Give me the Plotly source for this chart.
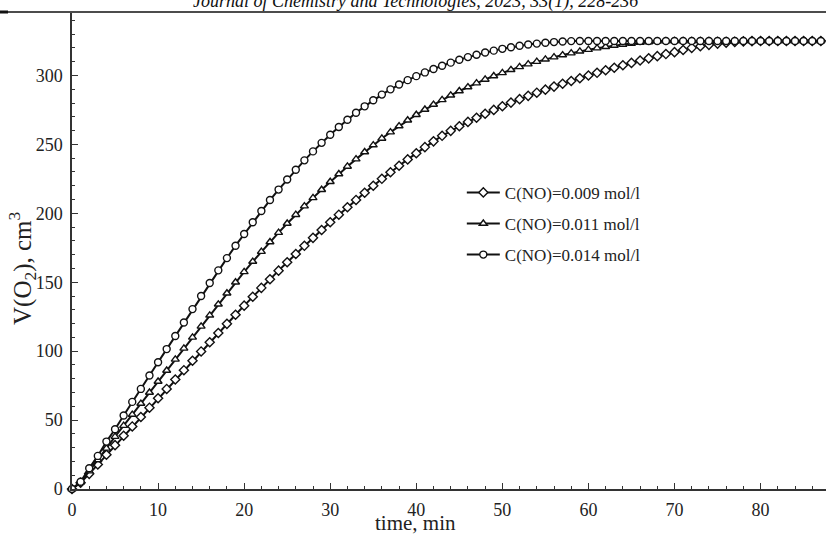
import plotly.graph_objects as go

time_min = list(range(0, 88))

v_009 = [0, 4.5, 11, 17.8, 24.8, 31.8, 38.6, 45.4, 52.2, 59, 65.8, 72.6, 79.4, 86.2, 93, 99.8,
         106.5, 113.2, 119.8, 126.4, 133, 139.5, 145.9, 152.2, 158.4, 164.5, 170.5, 176.4, 182.2,
         187.9, 193.5, 199, 204.4, 209.7, 214.9, 220, 225, 229.8, 234.5, 239.1, 243.6, 248, 252.2,
         256.2, 259.8, 263.1, 266.3, 269.3, 272.2, 275, 277.7, 280.3, 282.8, 285.2, 287.5, 289.7,
         291.9, 294, 296, 298, 300, 301.9, 303.8, 305.6, 307.4, 309.1, 310.8, 312.4, 314, 315.5,
         316.9, 318.5, 320, 321.2, 322.2, 323.1, 323.8, 324.3, 324.7, 324.9,
         325, 325, 325, 325, 325, 325, 325, 325]

v_011 = [0, 5, 13, 21, 29.5, 38, 46, 54, 62, 70, 78, 86, 94, 102, 110, 118, 126, 134, 142, 150,
         157.5, 165, 172.2, 179.2, 186, 192.6, 199, 205.2, 211.2, 217.1, 222.9, 228.5, 234, 239.3,
         244.5, 249.5, 254.3, 258.9, 263.3, 267.5, 271.5, 275.3, 278.9, 282.3, 285.6, 288.7, 291.6,
         294.4, 297.1, 299.6, 301.9, 304.1, 306.2, 308.2, 310, 311.7, 313.3, 314.8, 316.2, 317.5,
         318.7, 319.8, 320.8, 321.7, 322.5, 323.2, 323.8, 324.3, 324.7, 324.9,
         325, 325, 325, 325, 325, 325, 325, 325, 325, 325, 325, 325, 325, 325, 325, 325, 325, 325]

v_014 = [0, 5.3, 15, 24, 34.4, 43.3, 53.3, 63.2, 72.6, 82.3, 92, 101.5, 111, 120.8, 130.5, 140,
         149.4, 158.6, 167.5, 176.5, 185, 193.5, 201.7, 209.6, 217.2, 224.5, 231.6, 238.4, 244.9,
         251.1, 257, 262.6, 267.9, 272.9, 277.6, 282, 286.1, 289.9, 293.4, 296.6, 299.5, 302.2,
         304.7, 307, 309.3, 311.4, 313.3, 315, 316.6, 318, 319.3, 320.5, 321.5, 322.4, 323.1,
         323.7, 324.2, 324.6, 324.9,
         325, 325, 325, 325, 325, 325, 325, 325, 325, 325, 325, 325, 325, 325, 325, 325, 325, 325,
         325, 325, 325, 325, 325, 325, 325, 325, 325, 325, 325]

series_names = ["C(NO)=0.009 mol/l", "C(NO)=0.011 mol/l", "C(NO)=0.014 mol/l"]
series_values = [v_009, v_011, v_014]
series_symbols = ["diamond", "triangle-up", "circle"]
x_ticks = [0, 10, 20, 30, 40, 50, 60, 70, 80]
y_ticks = [0, 50, 100, 150, 200, 250, 300]

SERIF = "Liberation Serif, Times New Roman, serif"
INK = "#222222"

fig = go.Figure()
for name, vals, sym in zip(series_names, series_values, series_symbols):
    fig.add_trace(go.Scatter(
        x=time_min, y=vals, name=name, mode="lines+markers",
        line=dict(color="#111111", width=2),
        marker=dict(symbol=sym, size=7, color="white", line=dict(color="#111111", width=1.4)),
        cliponaxis=False, legendgroup=name,
    ))

axis_common = dict(
    showline=True, linecolor="#333333", linewidth=1.5, mirror=False,
    ticks="inside", ticklen=6, tickwidth=1.3, tickcolor="#333333",
    showgrid=False, zeroline=False,
    tickfont=dict(family=SERIF, size=18, color=INK),
)

fig.update_xaxes(range=[0, 87.6], tickvals=x_ticks,
                 minor=dict(dtick=2, tick0=0, ticks="inside", ticklen=3.5, tickwidth=1.2,
                            tickcolor="#333333", showgrid=False),
                 ticklabelstandoff=4, **axis_common)
fig.update_yaxes(range=[0, 345.3], tickvals=y_ticks,
                 minor=dict(dtick=10, tick0=0, ticks="inside", ticklen=3.5, tickwidth=1.2,
                            tickcolor="#333333", showgrid=False),
                 ticklabelstandoff=4, **axis_common)

fig.update_layout(
    width=826, height=535,
    margin=dict(l=72, r=0, t=13, b=46),
    plot_bgcolor="white", paper_bgcolor="white",
    showlegend=True,
    legend=dict(x=0.517, y=0.66, xanchor="left", yanchor="top",
                font=dict(family=SERIF, size=17, color=INK),
                bgcolor="rgba(0,0,0,0)", tracegroupgap=6, itemwidth=33),
    font=dict(family=SERIF, color=INK),
    annotations=[
        dict(text="time, min", xref="paper", yref="paper", x=(415 - 72) / 754, y=0,
             yshift=-34, xanchor="center", yanchor="middle", showarrow=False,
             font=dict(family=SERIF, size=21, color=INK)),
        dict(text="V(O<sub>2</sub>), cm<sup>3</sup>", xref="paper", yref="paper",
             x=0, xshift=-50, y=(489 - 268) / 476, xanchor="center", yanchor="middle",
             textangle=-90, showarrow=False,
             font=dict(family=SERIF, size=25, color=INK)),
        dict(text="Journal of Chemistry and Technologies, 2023, 33(1), 228-236",
             xref="paper", yref="paper", x=(415 - 72) / 754, y=1, yshift=-1,
             xanchor="center", yanchor="bottom", showarrow=False,
             font=dict(family=SERIF, size=18, color="#111111", style="italic")),
    ],
    shapes=[
        dict(type="line", xref="paper", yref="paper", x0=-72 / 754, x1=1,
             y0=1 + 1 / 476, y1=1 + 1 / 476, line=dict(color="#111111", width=1.5)),
        dict(type="line", xref="paper", yref="paper", x0=-72 / 754, x1=-64 / 754,
             y0=1 + 1 / 476, y1=1 + 1 / 476, line=dict(color="#111111", width=3)),
    ],
)

fig.write_html("out.html", config={"displayModeBar": False},
               post_script="document.body.style.margin='0';document.body.style.padding='0';")
